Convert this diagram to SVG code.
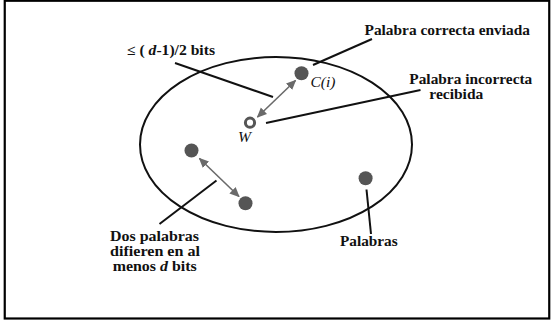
<svg xmlns="http://www.w3.org/2000/svg" width="551" height="320" viewBox="0 0 551 320">
<style>
.t{font-family:"Liberation Serif","DejaVu Serif",serif;font-weight:bold;font-size:14px;fill:#111}
.i{font-family:"Liberation Serif","DejaVu Serif",serif;font-style:italic;font-size:15px;fill:#111}
.lead{stroke:#111;stroke-width:2;fill:none}
.arr{stroke:#6a6a6a;stroke-width:1.6;fill:none;marker-start:url(#ah);marker-end:url(#ah)}
.dot{fill:#555}
</style>
<defs>
<marker id="ah" viewBox="0 0 10 10" refX="9" refY="5" markerWidth="10" markerHeight="10" markerUnits="userSpaceOnUse" orient="auto-start-reverse">
<path d="M0,0.5 L10,5 L0,9.5 Z" fill="#6a6a6a"/>
</marker>
</defs>
<rect x="4.75" y="0.75" width="544.5" height="317.75" fill="#fff" stroke="#000" stroke-width="2.2"/>
<g id="universe">
<ellipse cx="276" cy="144.5" rx="136" ry="87.5" fill="none" stroke="#111" stroke-width="2"/>
</g>
<g id="connectors">
<line class="arr" x1="257.5" y1="117" x2="295.5" y2="80.5"/>
<line class="arr" x1="199.5" y1="158.5" x2="239" y2="196.5"/>
<line class="lead" x1="175" y1="63" x2="273" y2="97"/>
<line class="lead" x1="313" y1="65" x2="372" y2="39"/>
<line class="lead" x1="266" y1="123" x2="420.5" y2="90"/>
<line class="lead" x1="216.5" y1="180.5" x2="159.5" y2="224"/>
<line class="lead" x1="366.5" y1="189.5" x2="371" y2="234"/>
</g>
<g id="node-ci">
<circle class="dot" cx="301.5" cy="73.3" r="7"/>
<text class="i" x="310.5" y="86.7" textLength="25" lengthAdjust="spacingAndGlyphs">C(i)</text>
</g>
<g id="node-w">
<circle cx="250" cy="122.7" r="4.6" fill="#fff" stroke="#555" stroke-width="3"/>
<text class="i" x="238" y="141.7" textLength="13" lengthAdjust="spacingAndGlyphs">W</text>
</g>
<g id="node-a"><circle class="dot" cx="191.5" cy="150.5" r="7"/></g>
<g id="node-b"><circle class="dot" cx="245.5" cy="203.3" r="7"/></g>
<g id="node-c"><circle class="dot" cx="365.6" cy="178.3" r="7"/></g>
<g id="label-bits">
<text class="t" x="127" y="55" textLength="88" lengthAdjust="spacingAndGlyphs">≤ ( <tspan font-style="italic">d</tspan>-1)/2 bits</text>
</g>
<g id="label-correcta">
<text class="t" x="364.5" y="35" textLength="165.5" lengthAdjust="spacingAndGlyphs">Palabra correcta enviada</text>
</g>
<g id="label-incorrecta">
<text class="t" x="409.3" y="84.3" textLength="123" lengthAdjust="spacingAndGlyphs">Palabra incorrecta</text>
<text class="t" x="429.3" y="99.3" textLength="54" lengthAdjust="spacingAndGlyphs">recibida</text>
</g>
<g id="label-dos">
<text class="t" x="110" y="240.7" textLength="89" lengthAdjust="spacingAndGlyphs">Dos palabras</text>
<text class="t" x="110" y="256" textLength="90" lengthAdjust="spacingAndGlyphs">difieren en al</text>
<text class="t" x="112.7" y="270.7" textLength="84" lengthAdjust="spacingAndGlyphs">menos <tspan font-style="italic">d</tspan> bits</text>
</g>
<g id="label-palabras">
<text class="t" x="340" y="246.3" textLength="57.7" lengthAdjust="spacingAndGlyphs">Palabras</text>
</g>
</svg>
